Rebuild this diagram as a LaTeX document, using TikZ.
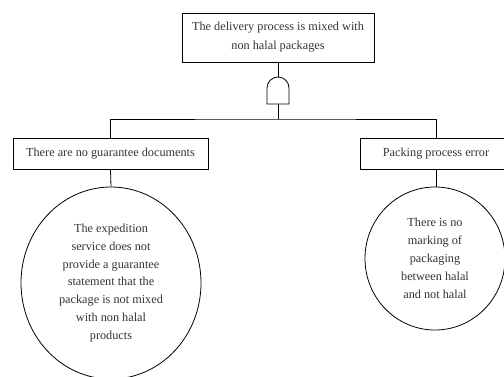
\documentclass[tikz,border=0pt]{standalone}
\usepackage{fontspec}
\setmainfont{Liberation Serif}
\usetikzlibrary{positioning,shapes.geometric,calc}
\def \barY {-119}
\def \gateR {11}
\tikzset{
	eventblock/.style= {draw, rectangle, align=center, line width=0.8pt, inner sep=0pt, font=\fontsize{12.3}{19}\selectfont, text=black!80},
	basicblock/.style= {draw, ellipse, align=center, line width=0.8pt, inner sep=0pt, font=\fontsize{12.3}{18}\selectfont, text=black!80},
	gateline/.style= {draw, line width=0.8pt},
	link/.style= {line width=0.8pt}
}
\begin{document}
\begin{tikzpicture}[x=1bp, y=1bp]
	\useasboundingbox (0,0) rectangle (504,-376);

%%%%%%%%%%%%%%%%%%%%% Nodes %%%%%%%%%%%%%%%%%%%%%
	\node [eventblock, minimum width=192bp, minimum height=49bp] (Top) at (278,-37.5) {The delivery process is mixed with\\non halal packages};

	\node [eventblock, minimum width=195bp, minimum height=31bp] (E1) at (110.5,-153.5) {There are no guarantee documents};
	\node [eventblock, minimum width=152bp, minimum height=31bp] (E2) at (436,-153.5) {Packing process error};

	\node [basicblock, minimum width=180bp, minimum height=192bp] (B1) at (111,-283) {The expedition\\service does not\\provide a guarantee\\statement that the\\package is not mixed\\with non halal\\products};
	\node [basicblock, minimum width=140bp, minimum height=143bp] (B2) at (435,-258.5) {There is no\\marking of\\packaging\\between halal\\and not halal};

%%%%%%%%%%%%%%%%%%%%% AND gate %%%%%%%%%%%%%%%%%%%%%
	\coordinate (G1out) at (278,-77);
	\coordinate (G1in) at (278,-104);
	\coordinate (Bar) at (278,\barY);
	\draw [gateline] ($(G1in)+(-\gateR,0)$) -- ++(0,16) arc[start angle=180, end angle=0, radius=\gateR] -- ++(0,-16) -- cycle;

%%%%%%%%%%%%%%%%%%%%% Links %%%%%%%%%%%%%%%%%%%%%
	\draw [link] (Top.south) -- (G1out);
	\draw [link] (G1in) -- (Bar);
	\draw [link] (E1.north) |- (Bar) -| (E2.north);
	\draw [link] (E1.south) -- (B1.north);
	\draw [link] (E2.south) -- (E2.south |- B2.north);

\end{tikzpicture}
\end{document}
